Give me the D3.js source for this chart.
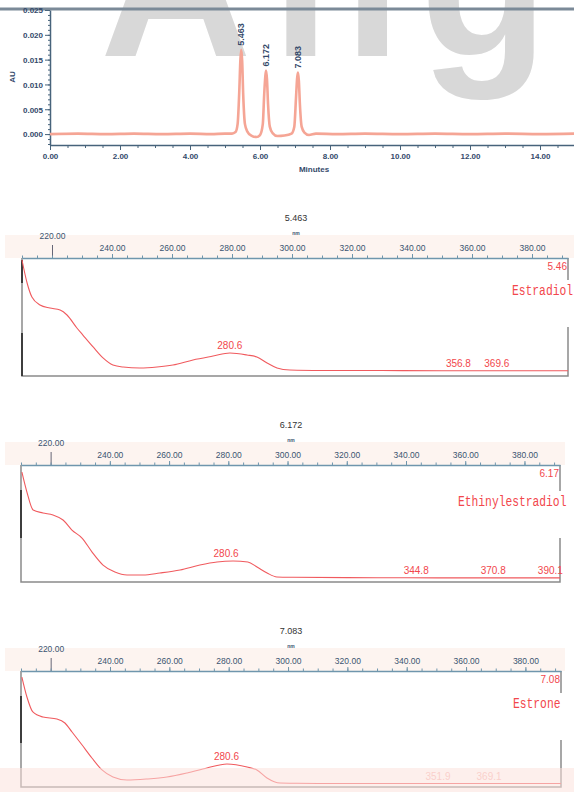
<!DOCTYPE html>
<html>
<head>
<meta charset="utf-8">
<script src="https://cdn.jsdelivr.net/npm/d3@7"></script>
<style>
  body { margin: 0; background: #fff; }
  svg { display: block; font-family: 'Liberation Sans', Arial, sans-serif; }
</style>
</head>
<body>
<div id="diagram"></div>
<script>
// - - - - - - - - - -
// data: chromatogram
const chromTime = [0, 0.8, 1.6, 2.4, 3.2, 4.0, 4.6, 5.0, 5.2, 5.3, 5.36, 5.41, 5.44, 5.463, 5.49, 5.52, 5.57, 5.64, 5.75, 5.9, 6.0, 6.08, 6.12, 6.15, 6.172, 6.2, 6.23, 6.28, 6.36, 6.5, 6.7, 6.9, 6.98, 7.03, 7.06, 7.083, 7.11, 7.14, 7.19, 7.27, 7.4, 7.6, 8.2, 9.0, 10.0, 11.0, 12.0, 13.0, 14.0, 15.0];
const chromAU = [0.0000, 0.0001, 0.0000, 0.0001, 0.0000, 0.0001, 0.0000, 0.0001, 0.0001, 0.0004, 0.0020, 0.0090, 0.0150, 0.0170, 0.0148, 0.0080, 0.0020, 0.0005, -0.0003, -0.0006, -0.0002, 0.0020, 0.0080, 0.0115, 0.0128, 0.0110, 0.0060, 0.0015, 0.0002, -0.0004, -0.0003, 0.0001, 0.0015, 0.0075, 0.0112, 0.0124, 0.0108, 0.0060, 0.0015, 0.0003, -0.0002, 0.0001, 0.0000, 0.0001, 0.0000, 0.0001, 0.0000, 0.0001, 0.0000, 0.0001];
const peakTimes = [5.463, 6.172, 7.083];
const peakLabels = ['5.463', '6.172', '7.083'];
const timeTicks = [0, 2, 4, 6, 8, 10, 12, 14];
const auTicks = [0, 0.005, 0.010, 0.015, 0.020, 0.025];
const watermark = 'Angi';

// data: UV spectra
const nmTicks = [220, 240, 260, 280, 300, 320, 340, 360, 380];
const compoundNames = ['Estradiol', 'Ethinylestradiol', 'Estrone'];
const retentionTimes = ['5.463', '6.172', '7.083'];
const retentionShort = ['5.46', '6.17', '7.08'];

const estradiolNm = [210.0, 211.7, 213.3, 216.0, 219.3, 222.7, 225.0, 228.3, 230.3, 233.7, 237.0, 240.3, 243.7, 249.3, 255.0, 260.3, 267.0, 273.7, 279.3, 285.0, 288.3, 291.7, 295.0, 299.3, 310, 330, 350, 370, 392];
const estradiolAbs = [0.983, 0.788, 0.669, 0.602, 0.576, 0.559, 0.517, 0.407, 0.347, 0.246, 0.153, 0.093, 0.076, 0.068, 0.076, 0.093, 0.136, 0.169, 0.195, 0.178, 0.161, 0.110, 0.068, 0.051, 0.047, 0.046, 0.045, 0.045, 0.044];
const estradiolMarks = [280.6, 356.8, 369.6];

const ethinylNm = [210.3, 212.0, 214.1, 217.4, 220.8, 224.2, 227.2, 230.6, 234.0, 237.7, 241.7, 245.8, 251.2, 256.9, 263.7, 270.4, 276.2, 281.6, 286.6, 289.7, 293.1, 296.4, 301.8, 320, 340, 360, 380, 392];
const ethinylAbs = [0.940, 0.769, 0.615, 0.590, 0.573, 0.530, 0.444, 0.376, 0.256, 0.145, 0.085, 0.060, 0.060, 0.077, 0.103, 0.145, 0.171, 0.179, 0.171, 0.128, 0.077, 0.043, 0.040, 0.037, 0.036, 0.035, 0.035, 0.035];
const ethinylMarks = [280.6, 344.8, 370.8, 390.1];

const estroneNm = [210.3, 212.0, 214.0, 217.4, 222.1, 224.8, 227.2, 230.6, 233.9, 237.3, 241.0, 245.7, 252.5, 259.2, 266.0, 272.7, 279.4, 286.2, 289.5, 292.9, 297.3, 303.0, 320, 340, 360, 380, 392];
const estroneAbs = [0.948, 0.776, 0.647, 0.603, 0.586, 0.552, 0.474, 0.362, 0.250, 0.147, 0.086, 0.060, 0.069, 0.086, 0.121, 0.164, 0.198, 0.172, 0.147, 0.078, 0.034, 0.032, 0.030, 0.030, 0.030, 0.030, 0.030];
const estroneMarks = [280.6, 351.9, 369.1];

!(function () {
  'use strict';
  // - - - - - - - - - -
  // declaration
  let
    svg = undefined,
    panels = undefined,
    setCanvas = undefined,
    setChromatogram = undefined,
    setSpectrum = undefined;

  const red = '#f2474c';

  panels = [
    { nm: estradiolNm, abs: estradiolAbs, marks: estradiolMarks, faded: [],
      left: 22, right: 568, top: 258, bottom: 376, titleX: 296, nameX: 512, nameDy: 37,
      dark: [[2, 25], [75, 118]], bandRight: 574 },
    { nm: ethinylNm, abs: ethinylAbs, marks: ethinylMarks, faded: [],
      left: 21, right: 560, top: 465, bottom: 582, titleX: 291, nameX: 458, nameDy: 41,
      dark: [[25, 73]], bandRight: 565 },
    { nm: estroneNm, abs: estroneAbs, marks: estroneMarks, faded: [1, 2],
      left: 21, right: 561, top: 671, bottom: 787, titleX: 291, nameX: 513, nameDy: 37,
      dark: [[25, 72]], bandRight: 565 }
  ];

  // methods
  setCanvas = function (contextSelector) {
    svg = d3.select(contextSelector)
      .append('svg')
      .attr('width', 574)
      .attr('height', 792);
  };

  setChromatogram = function () {
    let g = svg.append('g'),
      x = d3.scaleLinear().domain([0, 15]).range([50, 575]),
      y = d3.scaleLinear().domain([-0.0022, 0.025]).range([145, 10]);

    // watermark behind the plot
    g.append('text')
      .attr('x', 100)
      .attr('y', 56)
      .attr('font-size', 210)
      .attr('font-weight', 'bold')
      .attr('letter-spacing', 20)
      .attr('fill', '#d8d8d8')
      .text(watermark);

    g.append('line')
      .attr('x1', 0).attr('x2', 574)
      .attr('y1', 9).attr('y2', 9)
      .attr('stroke', '#7b8a98')
      .attr('stroke-width', 3);

    // axes
    g.append('g')
      .attr('transform', 'translate(0,145)')
      .call(d3.axisBottom(x).tickValues(timeTicks).tickFormat(d3.format('.2f')).tickSize(5).tickSizeOuter(0).tickPadding(3));
    g.append('g')
      .attr('transform', 'translate(0,145)')
      .call(d3.axisBottom(x).tickValues(d3.range(0, 15.01, 0.5)).tickFormat('').tickSize(3).tickSizeOuter(0))
      .select('.domain').remove();

    let yAxis = g.append('g')
      .attr('transform', 'translate(50,0)')
      .call(d3.axisLeft(y).tickValues(auTicks).tickFormat(d3.format('.3f')).tickSize(5).tickSizeOuter(0).tickPadding(2));
    g.append('g')
      .attr('transform', 'translate(50,0)')
      .call(d3.axisLeft(y).tickValues(d3.range(-0.002, 0.0251, 0.001)).tickFormat('').tickSize(2).tickSizeOuter(0))
      .select('.domain').remove();

    g.selectAll('.domain').attr('stroke', '#47637b').attr('stroke-width', 1.5);
    g.selectAll('.tick line').attr('stroke', '#47637b');
    g.selectAll('.tick text')
      .attr('font-size', 8)
      .attr('font-weight', 'bold')
      .attr('fill', '#34496a');
    yAxis.selectAll('.tick text').attr('dy', '0.35em');

    g.append('text')
      .attr('transform', 'translate(15,77) rotate(-90)')
      .attr('text-anchor', 'middle')
      .attr('font-size', 8)
      .attr('font-weight', 'bold')
      .attr('fill', '#34496a')
      .text('AU');

    g.append('text')
      .attr('x', 314)
      .attr('y', 172)
      .attr('text-anchor', 'middle')
      .attr('font-size', 8)
      .attr('font-weight', 'bold')
      .attr('fill', '#34496a')
      .text('Minutes');

    // trace
    let line = d3.line()
      .x(function (d) { return x(d[0]); })
      .y(function (d) { return y(d[1]); })
      .curve(d3.curveMonotoneX);

    g.append('path')
      .datum(d3.zip(chromTime, chromAU))
      .attr('d', line)
      .attr('fill', 'none')
      .attr('stroke', '#f5a595')
      .attr('stroke-width', 2.6)
      .attr('stroke-linejoin', 'round');

    // peak labels
    peakTimes.forEach(function (t, i) {
      let apex = y(chromAU[chromTime.indexOf(t)]);
      g.append('text')
        .attr('transform', 'translate(' + (x(t) + 3) + ',' + (apex - 4) + ') rotate(-90)')
        .attr('font-size', 9)
        .attr('font-weight', 'bold')
        .attr('fill', '#34496a')
        .text(peakLabels[i]);
    });
  };

  setSpectrum = function (p, i) {
    let g = svg.append('g'),
      x = d3.scaleLinear().domain([210, 392]).range([p.left, p.right]),
      y = d3.scaleLinear().domain([0, 1]).range([p.bottom, p.top]),
      fmt = d3.format('.2f');

    // axis band
    g.append('rect')
      .attr('x', 5).attr('y', p.top - 23)
      .attr('width', p.bandRight - 5).attr('height', 23)
      .attr('fill', '#fdf4f0');

    g.append('text')
      .attr('x', p.titleX).attr('y', p.top - 37)
      .attr('text-anchor', 'middle')
      .attr('font-size', 9)
      .attr('fill', '#333')
      .text(retentionTimes[i]);

    g.append('text')
      .attr('x', p.titleX).attr('y', p.top - 23)
      .attr('text-anchor', 'middle')
      .attr('font-size', 5)
      .attr('font-weight', 'bold')
      .attr('fill', '#3b5470')
      .text('nm');

    // frame
    g.append('path')
      .attr('d', 'M' + p.left + ',' + p.top + 'V' + p.bottom + 'H' + p.right + 'V' + p.top)
      .attr('fill', 'none')
      .attr('stroke', '#8a8a8a')
      .attr('stroke-width', 1.5);

    p.dark.forEach(function (s) {
      g.append('line')
        .attr('x1', p.left).attr('x2', p.left)
        .attr('y1', p.top + s[0]).attr('y2', p.top + s[1])
        .attr('stroke', '#333').attr('stroke-width', 1.8);
    });

    // axis on top
    let axis = g.append('g')
      .attr('transform', 'translate(0,' + p.top + ')')
      .call(d3.axisTop(x).tickValues(nmTicks).tickFormat(fmt).tickSize(4).tickSizeOuter(0).tickPadding(3));
    g.append('g')
      .attr('transform', 'translate(0,' + p.top + ')')
      .call(d3.axisTop(x).tickValues(d3.range(210, 392, 5)).tickFormat('').tickSize(2.5).tickSizeOuter(0))
      .select('.domain').remove();

    axis.select('.domain').attr('stroke', '#6f96ad').attr('stroke-width', 1.5);
    g.selectAll('.tick line').attr('stroke', '#6f96ad');
    axis.selectAll('.tick text')
      .attr('font-size', 8.5)
      .attr('fill', '#3b5470');
    axis.selectAll('.tick')
      .filter(function (d) { return d === 220; })
      .call(function (t) {
        t.select('line').attr('y2', -13).attr('stroke', '#667');
        t.select('text').attr('y', -19);
      });

    // spectrum
    let line = d3.line()
      .x(function (d) { return x(d[0]); })
      .y(function (d) { return y(d[1]); })
      .curve(d3.curveMonotoneX);

    g.append('path')
      .datum(d3.zip(p.nm, p.abs))
      .attr('d', line)
      .attr('fill', 'none')
      .attr('stroke', '#f05a5e')
      .attr('stroke-width', 1.1);

    // lambda max labels
    let bis = d3.bisector(function (d) { return d; }).center;
    p.marks.forEach(function (m, k) {
      let v = p.abs[bis(p.nm, m)];
      g.append('text')
        .attr('x', x(m) - 4)
        .attr('y', y(v) - 4)
        .attr('text-anchor', 'middle')
        .attr('font-size', 10)
        .attr('fill', p.faded.indexOf(k) >= 0 ? '#f7b9b6' : red)
        .text(d3.format('.1f')(m));
    });

    g.append('text')
      .attr('x', p.right - 1).attr('y', p.top + 12)
      .attr('text-anchor', 'end')
      .attr('font-size', 10)
      .attr('fill', red)
      .text(retentionShort[i]);

    // compound name over the frame
    g.append('rect')
      .attr('x', p.nameX - 2).attr('y', p.top + p.nameDy - 15)
      .attr('width', 574 - p.nameX + 2).attr('height', 47)
      .attr('fill', '#fff');

    g.append('text')
      .attr('transform', 'translate(' + p.nameX + ',' + (p.top + p.nameDy) + ') scale(1,1.25)')
      .attr('font-family', "'Liberation Mono', monospace")
      .attr('font-size', 11.3)
      .attr('fill', red)
      .text(compoundNames[i]);
  };

  // control
  setCanvas('#diagram');
  setChromatogram();
  panels.forEach(setSpectrum);

  // washed-out strip at the foot of the page
  svg.append('rect')
    .attr('x', 0).attr('y', 768)
    .attr('width', 574).attr('height', 24)
    .attr('fill', '#fbe2dc')
    .attr('opacity', 0.55);
  // - - - - - - - - - -
}());
</script>
</body>
</html>
